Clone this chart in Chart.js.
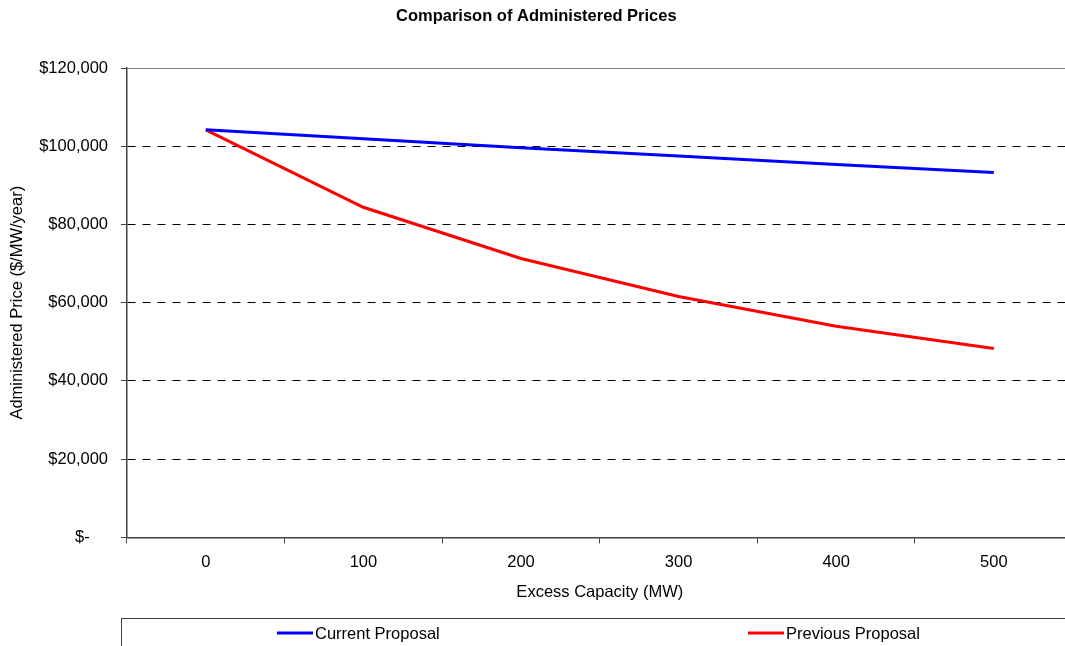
<!DOCTYPE html>
<html>
<head>
<meta charset="utf-8">
<title>Comparison of Administered Prices</title>
<script src="https://cdn.jsdelivr.net/npm/chart.js@4/dist/chart.umd.min.js"></script>
<style>
  html, body { margin: 0; padding: 0; background: #fff; overflow: hidden; }
  canvas { display: block; }
</style>
</head>
<body>
<canvas id="chart" width="1075" height="646"></canvas>
<script>
// Excess capacity steps (MW)
const capacities = ['0', '100', '200', '300', '400', '500'];
// Administered price, $/MW/year
const currentProposal = [104200, 101900, 99600, 97500, 95300, 93300];
const previousProposal = [104200, 84400, 71300, 61600, 54000, 48300];
// Price axis ticks
const priceMin = 0;
const priceMax = 120000;
const priceStep = 20000;

const FONT = '"Liberation Sans", Arial, Helvetica, sans-serif';
const FONT_SIZE = 16.5;
const TEXT = '#000000';
const AXIS = '#404040';

Chart.defaults.font.family = FONT;
Chart.defaults.font.size = FONT_SIZE;
Chart.defaults.color = TEXT;

function formatPrice(v) {
  if (v === 0) return '$-    ';
  return '$' + v.toLocaleString('en-US');
}

// Boxed legend strip along the bottom, items spread across two columns
const boxedLegend = {
  id: 'boxedLegend',
  afterDraw(chart) {
    const ctx = chart.ctx;
    const h = chart.height;
    const top = h - 27.5;
    const cy = h - 13;
    ctx.save();
    ctx.strokeStyle = '#404040';
    ctx.lineWidth = 1;
    ctx.strokeRect(121.5, top, chart.width + 20, 60);
    const starts = [277, 748];
    chart.data.datasets.forEach((ds, i) => {
      const x = starts[i];
      ctx.strokeStyle = ds.borderColor;
      ctx.lineWidth = 3;
      ctx.beginPath();
      ctx.moveTo(x, cy);
      ctx.lineTo(x + 36, cy);
      ctx.stroke();
      ctx.fillStyle = TEXT;
      ctx.font = FONT_SIZE + 'px ' + FONT;
      ctx.textAlign = 'left';
      ctx.textBaseline = 'middle';
      ctx.fillText(ds.label, x + 38, cy + 1);
    });
    ctx.restore();
  }
};

new Chart(document.getElementById('chart'), {
  type: 'line',
  data: {
    labels: capacities,
    datasets: [
      {
        label: 'Current Proposal',
        data: currentProposal,
        borderColor: '#0000FF',
        backgroundColor: '#0000FF',
        borderWidth: 3,
        pointRadius: 0,
        tension: 0,
        fill: false
      },
      {
        label: 'Previous Proposal',
        data: previousProposal,
        borderColor: '#FF0000',
        backgroundColor: '#FF0000',
        borderWidth: 3,
        pointRadius: 0,
        tension: 0,
        fill: false
      }
    ]
  },
  options: {
    responsive: false,
    animation: false,
    layout: { padding: { left: 0, right: 2.4, top: 0, bottom: 40 } },
    plugins: {
      legend: { display: false },
      tooltip: { enabled: false },
      title: {
        display: true,
        text: 'Comparison of Administered Prices',
        color: TEXT,
        font: { size: FONT_SIZE, weight: 'bold' },
        padding: { top: 6.2, bottom: 42 }
      }
    },
    scales: {
      x: {
        type: 'category',
        offset: true,
        grid: {
          offset: true,
          drawOnChartArea: false,
          drawTicks: true,
          tickLength: 6,
          tickColor: AXIS,
          tickWidth: 1
        },
        border: { display: true, color: AXIS, width: 1.5 },
        ticks: { color: TEXT, padding: 9, maxRotation: 0, font: { size: FONT_SIZE } },
        title: {
          display: true,
          text: 'Excess Capacity (MW)',
          color: TEXT,
          font: { size: FONT_SIZE },
          padding: { top: 1, bottom: 4 }
        }
      },
      y: {
        min: priceMin,
        max: priceMax,
        afterFit(scale) { scale.width = 127; },
        ticks: {
          stepSize: priceStep,
          color: TEXT,
          padding: 13,
          font: { size: FONT_SIZE },
          callback: (v) => formatPrice(v)
        },
        grid: {
          drawTicks: true,
          tickLength: 6,
          tickColor: AXIS,
          lineWidth: 1,
          color: (ctx) => {
            const v = ctx.tick ? ctx.tick.value : null;
            if (v === priceMin) return 'rgba(0,0,0,0)';
            if (v === priceMax) return '#808080';
            return '#000000';
          }
        },
        border: {
          display: true,
          color: AXIS,
          width: 1.5,
          dash: (ctx) => {
            const v = ctx.tick ? ctx.tick.value : null;
            return (v === priceMax || v === priceMin) ? [] : [8, 7];
          }
        },
        title: {
          display: true,
          text: 'Administered Price ($/MW/year)',
          color: TEXT,
          font: { size: FONT_SIZE },
          padding: { top: 8, bottom: 0 }
        }
      }
    }
  },
  plugins: [boxedLegend]
});
</script>
</body>
</html>
